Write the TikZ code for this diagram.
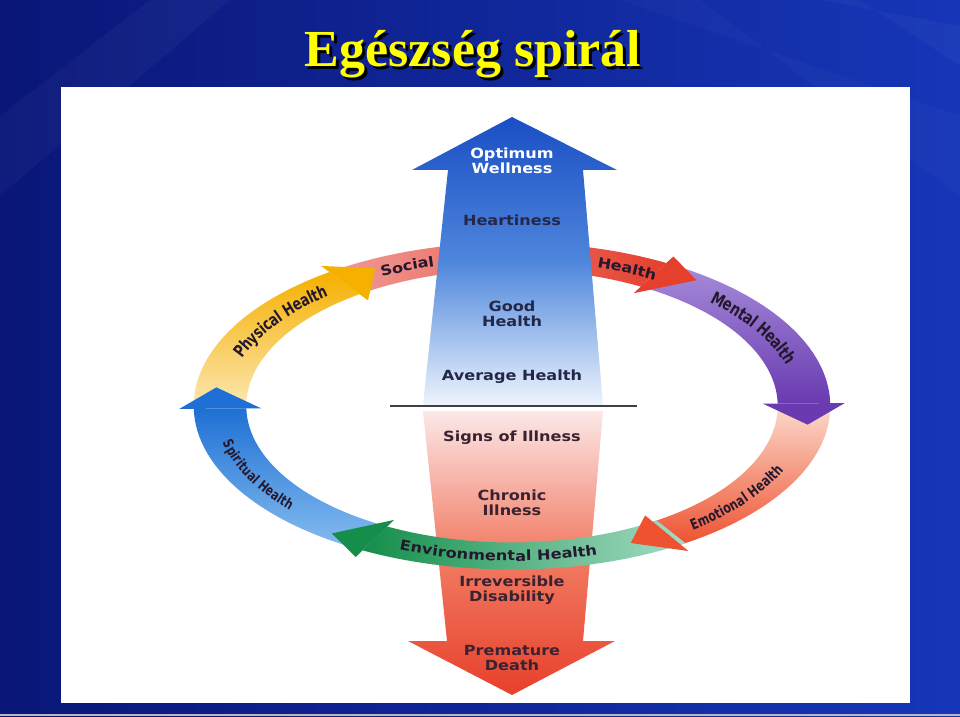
\documentclass[tikz,border=0pt]{standalone}
\usepackage{fontspec}
\usetikzlibrary{decorations.text,positioning}
\newfontfamily\titlefont{Liberation Serif}
\newfontfamily\widefont[FakeStretch=1.15]{DejaVu Sans}
\newfontfamily\armfont[FakeStretch=0.75]{DejaVu Sans}

\definecolor{slidedark}{HTML}{0A1678}
\definecolor{slidelight}{HTML}{1636B8}
\definecolor{titleyellow}{HTML}{FFFF00}
\definecolor{upblue}{HTML}{1A4EC4}
\definecolor{upmid}{HTML}{4E86DC}
\definecolor{upwhite}{HTML}{EEF4FD}
\definecolor{downpink}{HTML}{FBE8E8}
\definecolor{downmid}{HTML}{F27C64}
\definecolor{downred}{HTML}{E7402B}
\definecolor{upink}{HTML}{232848}
\definecolor{downink}{HTML}{3B2231}
\definecolor{ringink}{HTML}{24182E}
\definecolor{spiritdark}{HTML}{1E70D4}
\definecolor{spiritlight}{HTML}{86BDF0}
\definecolor{physdark}{HTML}{F5B000}
\definecolor{physlight}{HTML}{FCE6AE}
\definecolor{socialpink}{HTML}{F09A96}
\definecolor{socialred}{HTML}{E5402E}
\definecolor{mentaldark}{HTML}{6A3AB0}
\definecolor{mentallight}{HTML}{A58CDA}
\definecolor{emodark}{HTML}{EE5230}
\definecolor{emolight}{HTML}{FBDACC}
\definecolor{envdark}{HTML}{148E4A}
\definecolor{envlight}{HTML}{A4DCC4}

\tikzset{level style/.style={
		font=\widefont\bfseries\fontsize{14}{15}\selectfont,
		text=upink,
		align=center,
		inner sep=0pt,
	},
	illness style/.style={
		level style,
		text=downink,
	},
	title style/.style={
		font=\titlefont\bfseries\fontsize{52}{52}\selectfont,
		anchor=base,
		inner sep=0pt,
	},
	arm text/.style 2 args={
		decorate,
		decoration={text along path, text align=center, raise=-6pt,
			text color=ringink,
			text={|\armfont\bfseries\fontsize{#1}{#1}\selectfont|#2}},
	},
	wide text/.style={
		decorate,
		decoration={text along path, text align=center, raise=-5pt,
			text color=ringink,
			text={|\widefont\bfseries\fontsize{14}{14}\selectfont|#1}},
	}
}

\begin{document}
\begin{tikzpicture}[x=1pt, y=1pt]
	\useasboundingbox (0,0) rectangle (960,716);
	\shade[left color=slidedark, right color=slidelight] (0,0) rectangle (960,716);
	\fill[white, opacity=0.03] (150,716) -- (230,716) -- (0,520) -- (0,600) -- cycle;
	\fill[white, opacity=0.025] (620,716) -- (700,716) -- (960,520) -- (960,600) -- cycle;
	\fill[white, opacity=0.03] (820,716) -- (860,716) -- (960,650) -- (960,690) -- cycle;
	\draw[gray!55, line width=1.5] (0,1) -- (960,1);
	\fill[white] (61,13) rectangle (910,629);

	\node[title style, text=black] (TitleShadow) at (476,646) {Egészség spirál};
	\node[title style, text=titleyellow] (Title) at (473,649) {Egészség spirál};

	\begin{scope}[shift={(512,310)}, xscale=292, yscale=150]
		\shade[top color=spiritdark, bottom color=spiritlight] (241:1.09) arc[start angle=241, end angle=181, radius=1.09] -- (181:0.91) arc[start angle=181, end angle=241, radius=0.91] -- cycle;
		\shade[top color=physdark, bottom color=physlight] (179:1.09) arc[start angle=179, end angle=125, radius=1.09] -- (125:0.91) arc[start angle=125, end angle=179, radius=0.91] -- cycle;
		\shade[left color=socialpink, right color=socialred] (124:1.09) arc[start angle=124, end angle=61, radius=1.09] -- (61:0.91) arc[start angle=61, end angle=124, radius=0.91] -- cycle;
		\shade[top color=mentallight, bottom color=mentaldark] (60:1.09) arc[start angle=60, end angle=1, radius=1.09] -- (1:0.91) arc[start angle=1, end angle=60, radius=0.91] -- cycle;
		\shade[top color=emolight, bottom color=emodark] (0:1.09) arc[start angle=0, end angle=-58, radius=1.09] -- (-58:0.91) arc[start angle=-58, end angle=0, radius=0.91] -- cycle;
		\fill[spiritdark] (181:1.14) -- (173:1.02) -- (181:0.86) -- cycle;
		\fill[physdark] (125:1.14) -- (117:1.03) -- (125:0.86) -- cycle;
		\fill[socialred] (61:1.14) -- (53:1.05) -- (61:0.86) -- cycle;
		\fill[mentaldark] (1:1.14) -- (-7:1.02) -- (1:0.86) -- cycle;
	\end{scope}

	\shade[top color=upblue, bottom color=upwhite, middle color=upmid] (512,599) -- (617,546) -- (583,546) -- (603,311) -- (423,311) -- (448,546) -- (412,546) -- cycle;
	\shade[top color=downpink, bottom color=downred, middle color=downmid] (423,305) -- (603,305) -- (583,75) -- (615,75) -- (512,21) -- (408,75) -- (447,75) -- cycle;
	\coordinate (LineL) at (390,310);
	\coordinate (LineR) at (637,310);
	\draw[black!75, line width=1.5] (LineL) -- (LineR);

	\node[level style, text=white] (Optimum) at (512,555) {Optimum\\Wellness};
	\node[level style] (Heart) at (512,496) {Heartiness};
	\node[level style] (Good) at (512,402) {Good\\Health};
	\node[level style] (Average) at (512,339) {Average Health};
	\node[illness style] (Signs) at (512,278) {Signs of Illness};
	\node[illness style] (Chronic) at (512,213) {Chronic\\Illness};
	\node[illness style] (Disability) at (512,126) {Irreversible\\Disability};
	\node[illness style] (Death) at (512,58) {Premature\\Death};

	\begin{scope}[shift={(512,310)}, xscale=292, yscale=150]
		\shade[left color=envdark, right color=envlight] (-57:1.09) arc[start angle=-57, end angle=-118, radius=1.09] -- (-118:0.91) arc[start angle=-118, end angle=-57, radius=0.91] -- cycle;
		\fill[emodark] (-58:1.14) -- (-66:1.0) -- (-58:0.86) -- cycle;
		\fill[envdark] (-118:1.14) -- (-126:1.05) -- (-118:0.86) -- cycle;
	\end{scope}

	\begin{scope}[shift={(512,310)}]
		\path[arm text={17}{Physical Health}] (172:292 and 150) arc[start angle=172, end angle=122, x radius=292, y radius=150];
		\path[arm text={14}{Spiritual Health}] (180:292 and 150) arc[start angle=180, end angle=230, x radius=292, y radius=150];
		\path[arm text={17.5}{Mental Health}] (50:292 and 150) arc[start angle=50, end angle=12, x radius=292, y radius=150];
		\path[arm text={14.7}{Emotional Health}] (-60:292 and 150) arc[start angle=-60, end angle=-12, x radius=292, y radius=150];
		\path[wide text={Environmental Health}] (-123:292 and 150) arc[start angle=-123, end angle=-63, x radius=292, y radius=150];
		\path[wide text={Social}] (125:292 and 150) arc[start angle=125, end angle=98, x radius=292, y radius=150];
		\path[wide text={Health}] (76:292 and 150) arc[start angle=76, end angle=57, x radius=292, y radius=150];
	\end{scope}
\end{tikzpicture}
\end{document}
